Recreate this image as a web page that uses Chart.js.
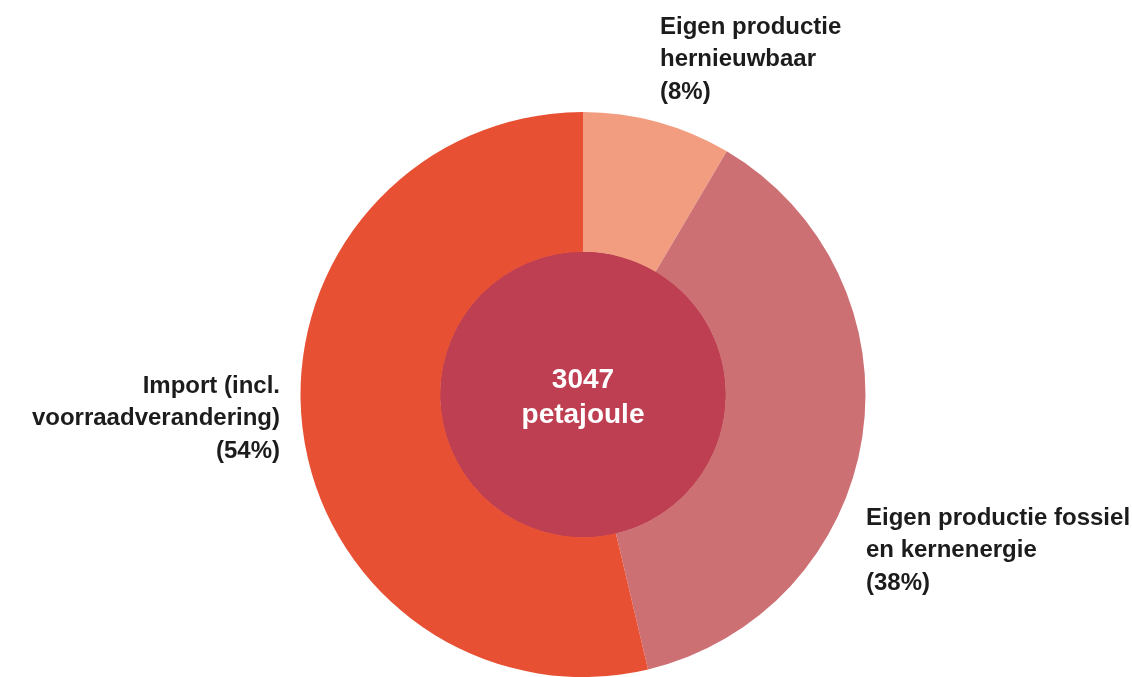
<!DOCTYPE html>
<html>
<head>
<meta charset="utf-8">
<script src="https://cdn.jsdelivr.net/npm/chart.js@4"></script>
<style>
    body { margin: 0; background: #fff; }
</style>
</head>
<body>
<canvas id="donut" width="1132" height="677"></canvas>
<script>
const categories = [
    ["Eigen productie", "hernieuwbaar", "(8%)"],
    ["Eigen productie fossiel", "en kernenergie", "(38%)"],
    ["Import (incl.", "voorraadverandering)", "(54%)"],
];
// shares (labels show the rounded values)
const shares = [8.5, 37.8, 53.7];
const colors = ["#f29d80", "#cd7074", "#e85034"];
const centerText = ["3047", "petajoule"];

const FONT = "'Liberation Sans', Arial, sans-serif";

// label placement relative to the chart centre
const labelPos = [
    { dx: 77, dy: -361, align: "left" },
    { dx: 283, dy: 130, align: "left" },
    { dx: -303, dy: -2, align: "right" },
];

const labelsPlugin = {
    id: "labels",
    beforeDatasetsDraw(chart) {
        const arc = chart.getDatasetMeta(0).data[0];
        const ctx = chart.ctx;
        ctx.save();
        ctx.beginPath();
        ctx.arc(arc.x, arc.y, arc.innerRadius + 0.5, 0, Math.PI * 2);
        ctx.fillStyle = "#bd3f51";
        ctx.fill();
        ctx.restore();
    },
    afterDraw(chart) {
        const arc = chart.getDatasetMeta(0).data[0];
        const ctx = chart.ctx;
        const cx = arc.x;
        const cy = arc.y;
        ctx.save();
        ctx.textBaseline = "alphabetic";
        ctx.font = "bold 24px " + FONT;
        ctx.fillStyle = "#1c1c1c";
        categories.forEach((lines, i) => {
            const p = labelPos[i];
            ctx.textAlign = p.align;
            lines.forEach((line, j) => {
                ctx.fillText(line, cx + p.dx, cy + p.dy + j * 32.5);
            });
        });
        ctx.font = "bold 28px " + FONT;
        ctx.fillStyle = "#ffffff";
        ctx.textAlign = "center";
        ctx.fillText(centerText[0], cx, cy - 7);
        ctx.fillText(centerText[1], cx, cy + 28);
        ctx.restore();
    },
};

const donut = document.getElementById("donut");
const donutChart = new Chart(donut, {
    type: "doughnut",
    data: {
        labels: categories.map((c) => c.join(" ")),
        datasets: [
            {
                data: shares,
                backgroundColor: colors,
                borderWidth: 0,
            },
        ],
    },
    options: {
        responsive: false,
        animation: false,
        cutout: "50.5%",
        layout: {
            padding: { top: 112, bottom: -2, left: 299, right: 265 },
        },
        plugins: {
            legend: { display: false },
            tooltip: { enabled: false },
        },
    },
    plugins: [labelsPlugin],
});
</script>
</body>
</html>
